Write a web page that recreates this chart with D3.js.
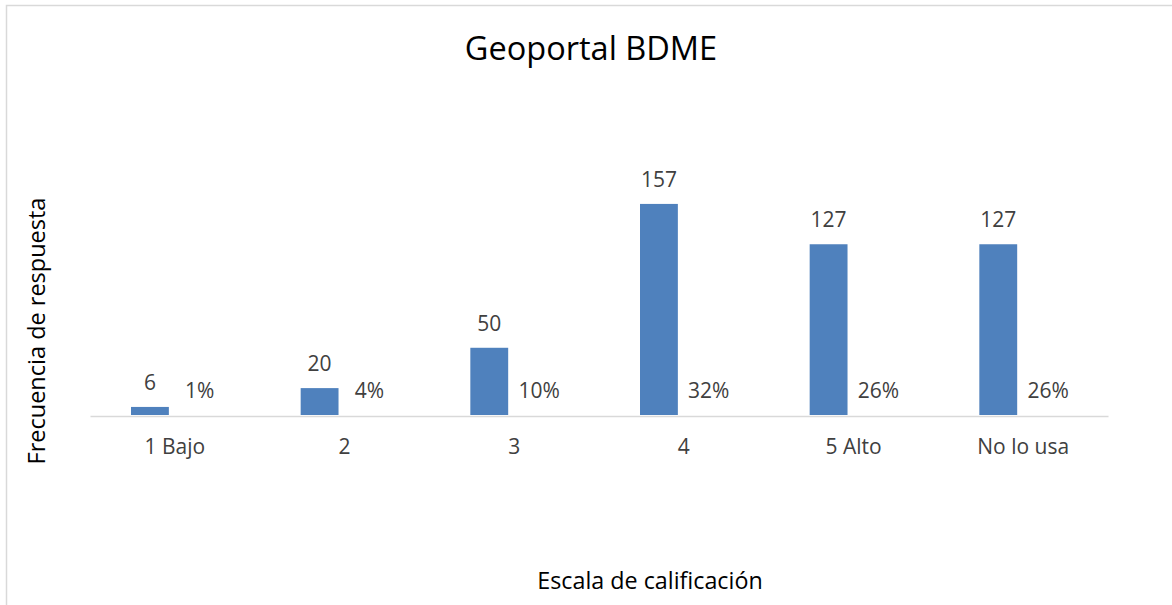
<!DOCTYPE html>
<html>
<head>
<meta charset="utf-8">
<script src="https://cdn.jsdelivr.net/npm/d3@7"></script>
<style>
  html, body { margin: 0; padding: 0; background: #fff; }
  svg { display: block; font-family: "Open Sans", sans-serif; }
</style>
</head>
<body>
<svg id="chart" width="1172" height="605"></svg>
<script>
const categories = ["1 Bajo", "2", "3", "4", "5 Alto", "No lo usa"];
const counts = [6, 20, 50, 157, 127, 127];
const percents = [0.01, 0.04, 0.10, 0.32, 0.26, 0.26];
const percentLabels = ["1%", "4%", "10%", "32%", "26%", "26%"];
const title = "Geoportal BDME";
const xTitle = "Escala de calificación";
const yTitle = "Frecuencia de respuesta";

const FONT = "'Open Sans', sans-serif";
const svg = d3.select("#chart");

// chart border
svg.append("rect")
  .attr("x", 6.5).attr("y", 5.5)
  .attr("width", 1200).attr("height", 700)
  .attr("fill", "none").attr("stroke", "#d9d9d9").attr("stroke-width", 1.5);

const plot = { left: 90, right: 1108, bottom: 415, top: 173 };

const x = d3.scaleBand().domain(categories).range([plot.left, plot.right]).padding(0);
const inner = d3.scaleBand().domain(["count", "pct"])
  .range([41, x.bandwidth() - 41]).paddingInner(0.24).paddingOuter(0);
const y = d3.scaleLinear().domain([0, 180]).range([plot.bottom, plot.top]);

const rows = categories.map((c, i) => ({ cat: c, count: counts[i], pct: percents[i], pctLabel: percentLabels[i] }));

// count bars
svg.append("g").selectAll("rect").data(rows).join("rect")
  .attr("x", d => x(d.cat) + inner("count"))
  .attr("y", d => y(d.count))
  .attr("width", inner.bandwidth())
  .attr("height", d => y(0) - y(d.count))
  .attr("fill", "#4f81bd");

// percent bars (sub-pixel on this scale, not visible)
svg.append("g").selectAll("rect").data(rows).join("rect")
  .attr("x", d => x(d.cat) + inner("pct"))
  .attr("y", d => y(d.pct))
  .attr("width", inner.bandwidth())
  .attr("height", d => y(0) - y(d.pct))
  .attr("fill", "none");

// axis
const xAxis = d3.axisBottom(x).tickSize(0).tickPadding(0);
const gx = svg.append("g").attr("transform", `translate(0,${plot.bottom + 1})`).call(xAxis);
gx.select(".domain").attr("stroke", "#d9d9d9").attr("stroke-width", 1.5);
gx.selectAll(".tick text")
  .attr("y", 38).attr("dy", 0)
  .attr("font-family", FONT)
  .attr("font-size", 21).attr("fill", "#404040");

// labels
svg.append("g").selectAll("text").data(rows).join("text")
  .attr("x", d => x(d.cat) + inner("count") + inner.bandwidth() / 2)
  .attr("y", d => y(d.count) - 17)
  .attr("text-anchor", "middle")
  .attr("font-size", 21).attr("fill", "#404040")
  .text(d => d.count);

svg.append("g").selectAll("text").data(rows).join("text")
  .attr("x", d => x(d.cat) + inner("pct") + inner.bandwidth() / 2)
  .attr("y", d => y(d.pct) - 17)
  .attr("text-anchor", "middle")
  .attr("font-size", 21).attr("fill", "#404040")
  .text(d => d.pctLabel);

// titles
svg.append("text").attr("x", 591).attr("y", 60).attr("text-anchor", "middle")
  .attr("font-size", 32.5).attr("fill", "#000").text(title);
svg.append("text").attr("x", 650).attr("y", 589).attr("text-anchor", "middle")
  .attr("font-size", 23.3).attr("fill", "#000").text(xTitle);
svg.append("text").attr("transform", "translate(45,331) rotate(-90)").attr("text-anchor", "middle")
  .attr("font-size", 23.5).attr("fill", "#000").text(yTitle);
</script>
</body>
</html>
